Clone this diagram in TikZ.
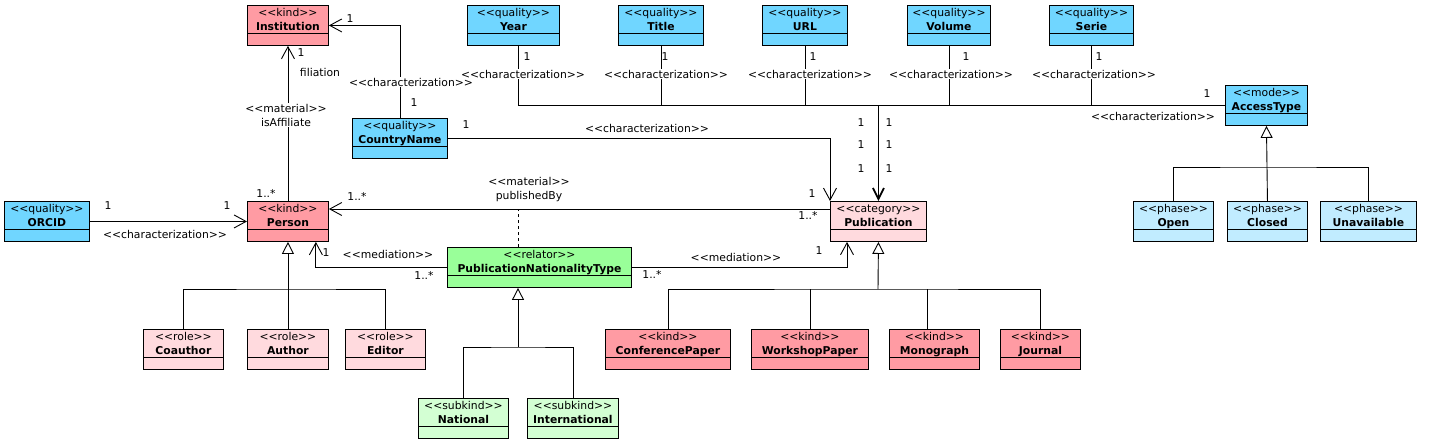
\documentclass[tikz,border=0pt]{standalone}
\usepackage{fontspec}
\setmainfont{DejaVu Sans}
\usetikzlibrary{arrows.meta}
\definecolor{kindcol}{RGB}{255,155,163}
\definecolor{qualitycol}{RGB}{112,214,255}
\definecolor{rolecol}{RGB}{255,218,222}
\definecolor{relatorcol}{RGB}{153,255,153}
\definecolor{subkindcol}{RGB}{211,255,211}
\definecolor{phasecol}{RGB}{193,236,255}
\newcommand{\stereo}[1]{<{}<#1>{}>}
\newcommand{\umlclass}[7]{%
  \node[classbox, minimum width=#4, fill=#5] (#1) at (#2,#3) {};
  \node[classtitle] at (#1.north) {\stereo{#6}\\\textbf{#7}};
}

\begin{document}
\begin{tikzpicture}[x=1pt, y=-1pt, line width=0.9pt,
    font=\fontsize{10.8}{14}\selectfont]
  \tikzset{
    classbox/.style={draw, rectangle, anchor=north west, minimum height=40,
      inner sep=0pt,
      path picture={\draw ([yshift=12pt]path picture bounding box.south west)
        -- ([yshift=12pt]path picture bounding box.south east);}},
    classtitle/.style={anchor=north, align=center, inner sep=0pt, yshift=-3pt},
    assoc/.style={-{Straight Barb[length=12pt, width=13pt]}},
    gen/.style={-{Triangle[open, length=12pt, width=12pt, fill=white]}},
    bold arrow/.style={line width=1.8pt, -{Straight Barb[length=11pt, width=11pt]}},
    lbl/.style={inner sep=1pt},
    wlbl/.style={inner sep=1pt, fill=white, align=center}
  }
  \useasboundingbox (0,0) rectangle (1429,445);

  % classes
  \umlclass{Institution}{247}{5}{81}{kindcol}{kind}{Institution}
  \umlclass{Year}{467}{5}{92}{qualitycol}{quality}{Year}
  \umlclass{Title}{618}{5}{85}{qualitycol}{quality}{Title}
  \umlclass{URL}{762}{5}{85}{qualitycol}{quality}{URL}
  \umlclass{Volume}{907}{5}{83}{qualitycol}{quality}{Volume}
  \umlclass{Serie}{1049}{5}{84}{qualitycol}{quality}{Serie}
  \umlclass{AccessType}{1225}{85}{82}{qualitycol}{mode}{AccessType}
  \umlclass{CountryName}{352}{118}{95}{qualitycol}{quality}{CountryName}
  \umlclass{ORCID}{4}{201}{85}{qualitycol}{quality}{ORCID}
  \umlclass{Person}{247}{201}{81}{kindcol}{kind}{Person}
  \umlclass{Publication}{830}{201}{96}{rolecol}{category}{Publication}
  \umlclass{PNT}{447}{247}{184}{relatorcol}{relator}{PublicationNationalityType}
  \umlclass{Open}{1133}{201}{80}{phasecol}{phase}{Open}
  \umlclass{Closed}{1227}{201}{80}{phasecol}{phase}{Closed}
  \umlclass{Unavailable}{1320}{201}{96}{phasecol}{phase}{Unavailable}
  \umlclass{Coauthor}{143}{329}{80}{rolecol}{role}{Coauthor}
  \umlclass{Author}{247}{329}{81}{rolecol}{role}{Author}
  \umlclass{Editor}{345}{329}{80}{rolecol}{role}{Editor}
  \umlclass{ConferencePaper}{605}{329}{125}{kindcol}{kind}{ConferencePaper}
  \umlclass{WorkshopPaper}{751}{329}{117}{kindcol}{kind}{WorkshopPaper}
  \umlclass{Monograph}{889}{329}{90}{kindcol}{kind}{Monograph}
  \umlclass{Journal}{1000}{329}{80}{kindcol}{kind}{Journal}
  \umlclass{National}{418}{398}{90}{subkindcol}{subkind}{National}
  \umlclass{International}{527}{398}{91}{subkindcol}{subkind}{International}

  % associations
  \draw[assoc] (CountryName.north) |- (Institution.east);
  \draw[assoc] (Person.north) -- (Institution.south);
  \draw[assoc] (ORCID.east) -- (Person.west);
  \draw[assoc] ([yshift=-8pt]Publication.north west) -- ([yshift=-8pt]Person.north east);
  \coordinate (pubby) at ([yshift=-8pt]Person.north east);
  \draw[dash pattern=on 3pt off 3pt] ([xshift=-21pt]PNT.north) -- ([xshift=-21pt]PNT.north |- pubby);
  \draw[assoc] (CountryName.east) -| (Publication.north west);
  \draw[assoc] (PNT.west) -| ([xshift=-13pt]Person.south east);
  \draw[assoc] (PNT.east) -| ([xshift=17pt]Publication.south west);

  % characterizations joined into Publication
  \coordinate (charjoin) at (Publication.north |- AccessType.west);
  \draw (AccessType.west) -- ([xshift=5pt]Year.south |- charjoin) -- ([xshift=5pt]Year.south);
  \foreach \q in {Title,URL,Volume,Serie}
    \draw (\q.south) -- (\q.south |- charjoin);
  \draw[bold arrow] (charjoin) -- (Publication.north);

  % generalizations
  \coordinate (personbar) at ([yshift=40pt]Author.north);
  \draw (Coauthor.north) |- (personbar) -| (Editor.north);
  \draw[gen] (Author.north) -- (Person.south);
  \coordinate (pntbar) at (518,347);
  \draw (National.north) |- (pntbar) -| (International.north);
  \draw[gen] (pntbar) -- (pntbar |- PNT.south);
  \coordinate (pubbar) at (878,289);
  \draw (ConferencePaper.north) |- (pubbar) -| (Journal.north);
  \draw (WorkshopPaper.north) -- (WorkshopPaper.north |- pubbar);
  \draw ([xshift=-7pt]Monograph.north) -- ([xshift=-7pt]Monograph.north |- pubbar);
  \draw[gen] (pubbar) -- (Publication.south);
  \coordinate (accbar) at (1266,167);
  \draw (Open.north) |- (accbar) -| (Unavailable.north);
  \draw[gen] (Closed.north) -- (AccessType.south);

  % labels
  \node[lbl] (m1) at (350,19) {1};
  \node[wlbl] (c1) at (411,82) {\stereo{characterization}};
  \node[lbl] (m2) at (414,103) {1};
  \node[lbl] (m3) at (301,53) {1};
  \node[lbl] (r1) at (320,72) {filiation};
  \node[wlbl] (r2) at (286,115) {\stereo{material}\\isAffiliate};
  \node[lbl] (m4) at (266,193) {1..*};
  \node[lbl] (m5) at (108,206) {1};
  \node[lbl] (m6) at (227,206) {1};
  \node[lbl] (c2) at (165,234) {\stereo{characterization}};
  \node[lbl] (m7) at (357,196) {1..*};
  \node[lbl, align=center] (r3) at (529,190) {\stereo{material}\\publishedBy};
  \node[lbl] (m8) at (812,194) {1};
  \node[lbl] (m9) at (808,215) {1..*};
  \node[lbl] (m10) at (466,125) {1};
  \node[lbl] (c3) at (647,128) {\stereo{characterization}};
  \foreach \cx/\mx/\q in {523/527/Year, 666/665/Title, 810/813/URL, 951/966/Volume, 1094/1099/Serie} {
    \node[wlbl] (c\q) at (\cx,74) {\stereo{characterization}};
    \node[lbl] (m\q) at (\mx,57) {1};
  }
  \node[lbl] (m11) at (1207,94) {1};
  \node[lbl] (c4) at (1153,116) {\stereo{characterization}};
  \foreach \ly in {123,145,169} {
    \node[lbl] at (861,\ly) {1};
    \node[lbl] at (889,\ly) {1};
  }
  \node[lbl] (m12) at (326,253) {1};
  \node[lbl] (r4) at (388,254) {\stereo{mediation}};
  \node[lbl] (m13) at (424,275) {1..*};
  \node[lbl] (m14) at (652,274) {1..*};
  \node[lbl] (r5) at (736,257) {\stereo{mediation}};
  \node[lbl] (m15) at (819,251) {1};
\end{tikzpicture}
\end{document}
